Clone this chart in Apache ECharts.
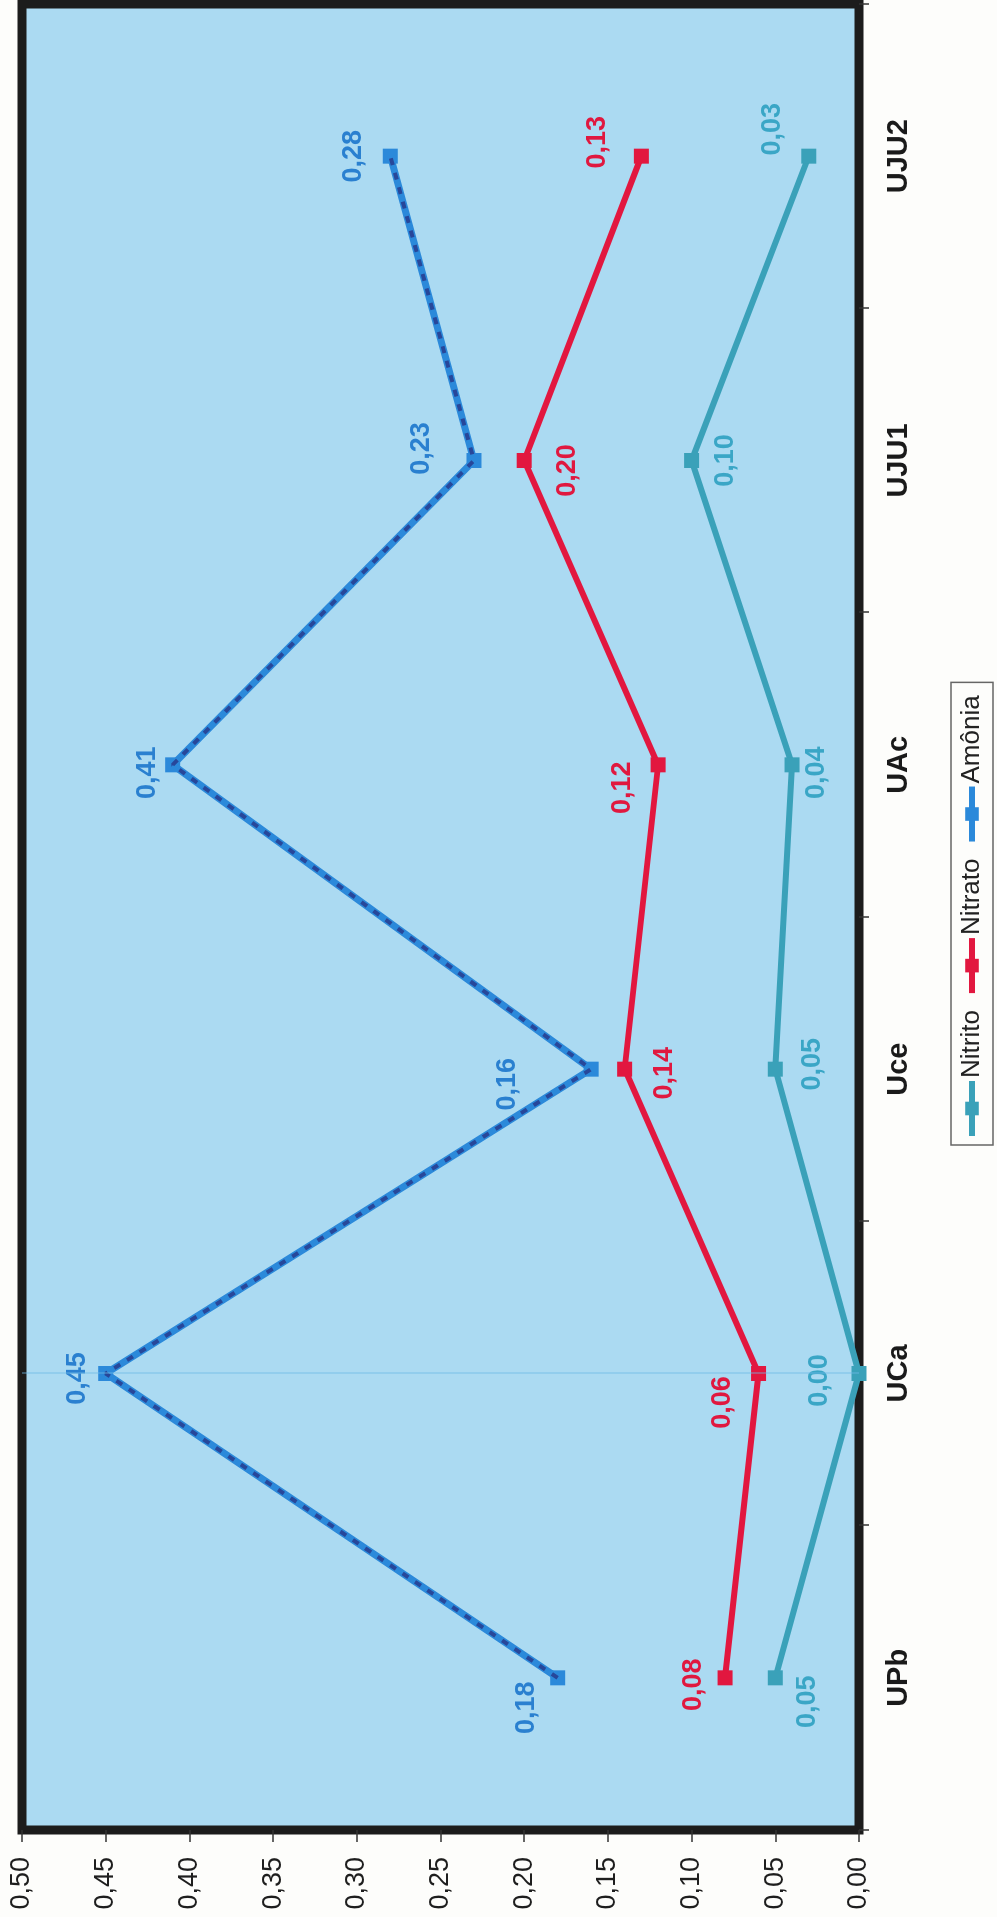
<!DOCTYPE html>
<html>
<head>
<meta charset="utf-8">
<script src="https://cdn.jsdelivr.net/npm/echarts@6/dist/echarts.min.js"></script>
<style>
  html, body { margin: 0; padding: 0; width: 997px; height: 1917px; overflow: hidden; background: #fdfdfb; }
  /* the chart is laid out landscape and turned a quarter-turn counter-clockwise */
  #chart { position: absolute; left: 0; top: 0; width: 1917px; height: 997px;
           transform-origin: 0 0; transform: translate(0, 1917px) rotate(-90deg); }
</style>
</head>
<body>
<div id="chart"></div>
<script>
// Sampling points
const categories = ['UPb', 'UCa', 'Uce', 'UAc', 'UJU1', 'UJU2'];

// Concentrations per point
const nitrito = [0.05, 0.00, 0.05, 0.04, 0.10, 0.03];
const nitrato = [0.08, 0.06, 0.14, 0.12, 0.20, 0.13];
const amonia  = [0.18, 0.45, 0.16, 0.41, 0.23, 0.28];

// Value-axis tick labels (decimal comma)
const valueTicks = ['0,00', '0,05', '0,10', '0,15', '0,20', '0,25', '0,30', '0,35', '0,40', '0,45', '0,50'];

// Label nudges [dx, dy] in px from each marker
const offNitrito = [[-24, 32], [-7, -39], [5, 37], [-8, 25], [0, 34], [27, -36]];
const offNitrato = [[-7, -32], [-29, -36], [-4, 40], [-23, -36], [-10, 43], [14, -44]];
const offAmonia  = [[-30, -31], [-5, -28], [-15, -84], [-8, -25], [12, -52], [0, -37]];

const COL_NITRITO = '#3aa1b9', LBL_NITRITO = '#3aa6c6';
const COL_NITRATO = '#e2173f', LBL_NITRATO = '#e0183f';
const COL_AMONIA  = '#2b89da', LBL_AMONIA  = '#2a80d0';
const FONT = 'Liberation Sans, Arial, sans-serif';

const fmt = v => v.toFixed(2).replace('.', ',');

function points(values, offsets) {
  return values.map((v, i) => ({ value: v, label: { offset: offsets[i] } }));
}

function lineSeries(name, values, offsets, color, labelColor, width) {
  return {
    name: name,
    type: 'line',
    data: points(values, offsets),
    symbol: 'rect',
    symbolSize: 15,
    z: 3,
    lineStyle: { color: color, width: width },
    itemStyle: { color: color },
    label: {
      show: true,
      position: 'inside',
      formatter: p => fmt(p.value),
      color: labelColor,
      fontFamily: FONT,
      fontSize: 27,
      fontWeight: 'bold',
      textBorderWidth: 0
    },
    emphasis: { disabled: true },
    animation: false
  };
}

const chart = echarts.init(document.getElementById('chart'), null, { renderer: 'canvas' });

const nitritoSeries = lineSeries('Nitrito', nitrito, offNitrito, COL_NITRITO, LBL_NITRITO, 6);
nitritoSeries.markLine = {
  silent: true,
  symbol: 'none',
  label: { show: false },
  lineStyle: { color: 'rgba(110,185,230,0.4)', width: 2, type: 'solid' },
  data: [{ xAxis: 'UCa' }],
  animation: false
};

const option = {
  backgroundColor: '#fdfdfb',
  animation: false,
  textStyle: { fontFamily: FONT },
  grid: {
    left: 87, right: 4, top: 22, bottom: 138,
    show: true,
    backgroundColor: '#abdaf2',
    borderColor: '#1c1c1c',
    borderWidth: 9
  },
  legend: {
    data: ['Nitrito', 'Nitrato', 'Amônia'],
    left: 772,
    top: 951,
    orient: 'horizontal',
    itemWidth: 55,
    itemHeight: 17,
    itemGap: 14,
    padding: [8, 13, 8, 6],
    borderColor: '#666',
    borderWidth: 1.5,
    backgroundColor: '#fdfdfb',
    lineStyle: { width: 6 },
    textStyle: { fontFamily: FONT, fontSize: 26, color: '#222', padding: [0, 0, 0, -2] },
    selectedMode: false
  },
  xAxis: {
    type: 'category',
    data: categories,
    boundaryGap: true,
    axisLine: { show: false },
    axisTick: { show: true, length: 10, lineStyle: { color: '#333', width: 1.5 } },
    axisLabel: { fontFamily: FONT, fontSize: 29, fontWeight: 'bold', color: '#1a1a1a', margin: 25 },
    splitLine: { show: false }
  },
  yAxis: {
    type: 'value',
    min: 0,
    max: 0.5,
    interval: 0.05,
    axisLine: { show: false },
    axisTick: { show: true, length: 12, lineStyle: { color: '#333', width: 1.5 } },
    axisLabel: {
      fontFamily: FONT, fontSize: 27, color: '#1e1e1e', margin: 27,
      formatter: v => valueTicks[Math.round(v / 0.05)]
    },
    splitLine: { show: false }
  },
  series: [
    nitritoSeries,
    lineSeries('Nitrato', nitrato, offNitrato, COL_NITRATO, LBL_NITRATO, 6),
    lineSeries('Amônia', amonia, offAmonia, COL_AMONIA, LBL_AMONIA, 7),
    {
      // darker hatch stripe running along the Amônia line
      name: 'Amônia',
      type: 'line',
      data: amonia,
      symbol: 'none',
      z: 4,
      silent: true,
      lineStyle: { color: '#27479a', width: 4, type: [7, 8] },
      label: { show: false },
      emphasis: { disabled: true },
      animation: false
    }
  ]
};

chart.setOption(option);
</script>
</body>
</html>
